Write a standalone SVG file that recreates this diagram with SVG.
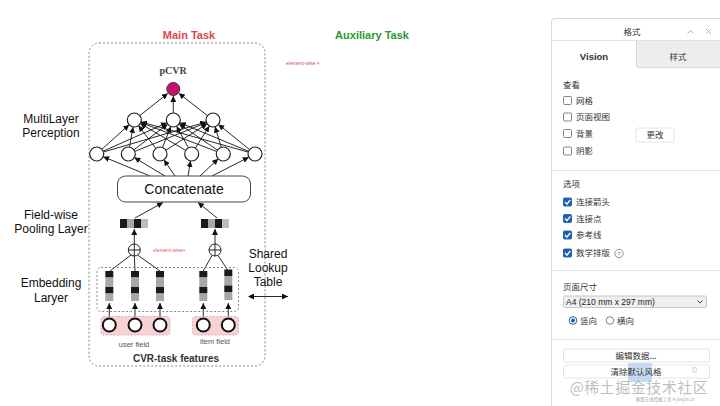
<svg xmlns="http://www.w3.org/2000/svg" width="720" height="406" viewBox="0 0 720 406">
<defs>
<style>
.lbl{font-family:"Liberation Sans",Arial,sans-serif;font-size:12px;fill:#111;text-anchor:middle}
.nd{fill:#fff;stroke:#222;stroke-width:1.2}
.in{fill:#fff;stroke:#111;stroke-width:2}
.ln{stroke:#111;stroke-width:0.9;fill:none}
.arr{stroke:#111;stroke-width:0.9;fill:none;marker-end:url(#ah)}
.dash{fill:none;stroke:#888;stroke-width:1;stroke-dasharray:2,2}
.blk{fill:#1a1a1a}
.gry{fill:#a8a8a8}
.cjk{font-family:"Noto Sans CJK SC","Noto Sans",sans-serif;font-size:8.5px;fill:#333}
.sep{stroke:#e2e2e2;stroke-width:1}
.cb{fill:#fff;stroke:#777;stroke-width:0.9}
.cbk{fill:#1b5fb0;stroke:#1b5fb0;stroke-width:0.9}
.tick{fill:none;stroke:#fff;stroke-width:1.4}
</style>
<marker id="ah" viewBox="0 0 10 10" refX="10" refY="5" markerWidth="6" markerHeight="6" markerUnits="userSpaceOnUse" orient="auto">
<path d="M0,0 L10,5 L0,10 z" fill="#111"/>
</marker>
<marker id="ahs" viewBox="0 0 10 10" refX="0" refY="5" markerWidth="6" markerHeight="6" markerUnits="userSpaceOnUse" orient="auto-start-reverse">
<path d="M0,0 L10,5 L0,10 z" fill="#111"/>
</marker>
</defs>
<rect width="720" height="406" fill="#fff"/>

<text x="189" y="39" font-family="Liberation Sans,Arial,sans-serif" font-size="11" font-weight="bold" fill="#e04848" text-anchor="middle">Main Task</text>
<text x="372" y="39" font-family="Liberation Sans,Arial,sans-serif" font-size="11" font-weight="bold" fill="#2a9a2a" text-anchor="middle">Auxiliary Task</text>
<text x="286" y="65" font-family="Liberation Sans,Arial,sans-serif" font-size="5" fill="#d05050">element-wise ×</text>

<rect id="main-box" x="89" y="43" width="176" height="323" rx="10" class="dash"/>

<g id="label-mlp"><text x="51" y="123" class="lbl">MultiLayer</text><text x="51" y="137" class="lbl">Perception</text></g>
<g id="label-pool"><text x="51" y="219" class="lbl">Field-wise</text><text x="51" y="233" class="lbl">Pooling Layer</text></g>
<g id="label-emb"><text x="51" y="287" class="lbl">Embedding</text><text x="51" y="302" class="lbl">Laryer</text></g>
<g id="label-shared"><text x="268" y="258" class="lbl">Shared</text><text x="268" y="272" class="lbl">Lookup</text><text x="268" y="286" class="lbl">Table</text></g>

<text x="173" y="74" font-family="Liberation Serif,serif" font-size="10" font-weight="bold" fill="#444" text-anchor="middle">pCVR</text>

<g id="connectors">
<line x1="254" y1="296.5" x2="288" y2="296.5" class="ln" marker-start="url(#ahs)" marker-end="url(#ah)"/>
<line x1="139.8" y1="115.6" x2="167.8" y2="93.4" class="arr"/>
<line x1="173.3" y1="113" x2="173.3" y2="96" class="arr"/>
<line x1="207.5" y1="115.7" x2="178.8" y2="93.3" class="arr"/>
<line x1="101.9" y1="149.3" x2="129.1" y2="124.7" class="arr"/>
<line x1="129.5" y1="147.1" x2="133.1" y2="126.9" class="arr"/>
<line x1="155.8" y1="148.4" x2="138.5" y2="125.6" class="arr"/>
<line x1="185.7" y1="150.4" x2="140.3" y2="123.6" class="arr"/>
<line x1="216.8" y1="151.5" x2="140.8" y2="122.5" class="arr"/>
<line x1="248.3" y1="152.1" x2="141.0" y2="121.9" class="arr"/>
<line x1="103.1" y1="151.2" x2="166.9" y2="122.8" class="arr"/>
<line x1="133.9" y1="149.8" x2="167.7" y2="124.2" class="arr"/>
<line x1="162.5" y1="147.5" x2="170.8" y2="126.5" class="arr"/>
<line x1="188.4" y1="147.8" x2="176.6" y2="126.2" class="arr"/>
<line x1="217.5" y1="150.1" x2="179.1" y2="123.9" class="arr"/>
<line x1="248.5" y1="151.3" x2="179.8" y2="122.7" class="arr"/>
<line x1="103.4" y1="152.0" x2="206.3" y2="122.0" class="arr"/>
<line x1="134.8" y1="151.4" x2="206.5" y2="122.6" class="arr"/>
<line x1="165.9" y1="150.2" x2="207.1" y2="123.8" class="arr"/>
<line x1="195.4" y1="148.1" x2="209.3" y2="125.9" class="arr"/>
<line x1="221.3" y1="147.3" x2="215.0" y2="126.7" class="arr"/>
<line x1="249.6" y1="149.6" x2="218.4" y2="124.4" class="arr"/>
<line x1="150" y1="176" x2="103.2" y2="156.7" class="arr"/>
<line x1="165" y1="176" x2="134.3" y2="157.6" class="arr"/>
<line x1="175" y1="176" x2="163.9" y2="159.8" class="arr"/>
<line x1="188" y1="176" x2="190.5" y2="160.9" class="arr"/>
<line x1="200" y1="176" x2="218.2" y2="158.8" class="arr"/>
<line x1="212" y1="176" x2="248.8" y2="157.2" class="arr"/>
<line x1="135" y1="218" x2="163" y2="202.5" class="arr"/>
<line x1="217" y1="218" x2="198" y2="202.5" class="arr"/>
<line x1="134.3" y1="244" x2="134.3" y2="229" class="arr"/>
<line x1="215" y1="244" x2="215" y2="229" class="arr"/>
<line x1="131" y1="255" x2="110" y2="271" class="ln"/>
<line x1="134.3" y1="256" x2="135" y2="271" class="ln"/>
<line x1="137.6" y1="255" x2="160" y2="271" class="ln"/>
<line x1="212" y1="255.5" x2="203.3" y2="271" class="ln"/>
<line x1="218" y1="255.5" x2="228.3" y2="271" class="ln"/>
<line x1="109.3" y1="318" x2="109.3" y2="303" class="arr"/>
<line x1="135" y1="318" x2="135" y2="303" class="arr"/>
<line x1="160" y1="318" x2="160" y2="303" class="arr"/>
<line x1="203.3" y1="318" x2="203.3" y2="303" class="arr"/>
<line x1="228.3" y1="318" x2="228.3" y2="303" class="arr"/>
</g>

<g id="node-pcvr"><circle cx="173.3" cy="89" r="6.5" fill="#c8106e" stroke="#333" stroke-width="1"/></g>
<g id="node-h2-1"><circle cx="134.3" cy="120" r="7" class="nd"/></g>
<g id="node-h2-2"><circle cx="173.3" cy="120" r="7" class="nd"/></g>
<g id="node-h2-3"><circle cx="213" cy="120" r="7" class="nd"/></g>
<g id="node-h1-1"><circle cx="96.7" cy="154" r="7" class="nd"/></g>
<g id="node-h1-2"><circle cx="128.3" cy="154" r="7" class="nd"/></g>
<g id="node-h1-3"><circle cx="160" cy="154" r="7" class="nd"/></g>
<g id="node-h1-4"><circle cx="191.7" cy="154" r="7" class="nd"/></g>
<g id="node-h1-5"><circle cx="223.3" cy="154" r="7" class="nd"/></g>
<g id="node-h1-6"><circle cx="255" cy="154" r="7" class="nd"/></g>

<g id="node-concat">
<rect x="117.5" y="176" width="133" height="26" rx="8" fill="#fff" stroke="#444" stroke-width="1"/>
<text x="184" y="194" font-family="Liberation Sans,Arial,sans-serif" font-size="14" fill="#111" text-anchor="middle">Concatenate</text>
</g>

<g id="node-pool-user">
<rect x="120" y="219" width="7" height="9" class="blk"/><rect x="127" y="219" width="7" height="9" class="gry"/><rect x="134" y="219" width="7" height="9" class="blk"/><rect x="141" y="219" width="7" height="9" fill="#bdbdbd"/>
</g>
<g id="node-pool-item">
<rect x="201" y="219" width="7" height="9" class="blk"/><rect x="208" y="219" width="7" height="9" class="gry"/><rect x="215" y="219" width="7" height="9" class="blk"/><rect x="222" y="219" width="7" height="9" fill="#bdbdbd"/>
</g>

<g id="node-sum-user"><circle cx="134.3" cy="250" r="6" fill="#fff" stroke="#222" stroke-width="1"/><path d="M128.3,250 H140.3 M134.3,244 V256" stroke="#222" stroke-width="1"/></g>
<g id="node-sum-item"><circle cx="215" cy="250" r="6" fill="#fff" stroke="#222" stroke-width="1"/><path d="M209,250 H221 M215,244 V256" stroke="#222" stroke-width="1"/></g>
<text x="153" y="252" font-family="Liberation Sans,Arial,sans-serif" font-size="5" fill="#e05a5a">element-wise+</text>

<rect id="emb-box" x="97" y="267.5" width="141.5" height="44" rx="4" class="dash"/>
<g id="emb-cols">
<g id="node-emb-1"><rect x="105.3" y="271" width="8" height="6.5" class="blk"/><rect x="105.3" y="277.5" width="8" height="9.5" class="gry"/><rect x="105.3" y="287" width="8" height="6.5" class="blk"/><rect x="105.3" y="293.5" width="8" height="7.5" class="gry"/></g>
<g id="node-emb-2"><rect x="131" y="271" width="8" height="6.5" class="blk"/><rect x="131" y="277.5" width="8" height="9.5" class="gry"/><rect x="131" y="287" width="8" height="6.5" class="blk"/><rect x="131" y="293.5" width="8" height="7.5" class="gry"/></g>
<g id="node-emb-3"><rect x="156" y="271" width="8" height="6.5" class="blk"/><rect x="156" y="277.5" width="8" height="9.5" class="gry"/><rect x="156" y="287" width="8" height="6.5" class="blk"/><rect x="156" y="293.5" width="8" height="7.5" class="gry"/></g>
<g id="node-emb-4"><rect x="199.3" y="271" width="8" height="6.5" class="blk"/><rect x="199.3" y="277.5" width="8" height="9.5" class="gry"/><rect x="199.3" y="287" width="8" height="6.5" class="blk"/><rect x="199.3" y="293.5" width="8" height="7.5" class="gry"/></g>
<g id="node-emb-5"><rect x="224.3" y="269.5" width="8" height="6.5" class="blk"/><rect x="224.3" y="276" width="8" height="9.5" class="gry"/><rect x="224.3" y="285.5" width="8" height="6.5" class="blk"/><rect x="224.3" y="292" width="8" height="8" class="gry"/></g>
</g>

<g id="user-field">
<rect x="101" y="316.5" width="69" height="18.5" rx="3" fill="#f6d2d4" stroke="#e0a0a6" stroke-width="0.8" stroke-dasharray="2,1.5"/>
<circle cx="109.3" cy="325" r="6.5" class="in"/><circle cx="135" cy="325" r="6.5" class="in"/><circle cx="160" cy="325" r="6.5" class="in"/>
<text x="134" y="347" font-family="Liberation Sans,Arial,sans-serif" font-size="7.5" fill="#555" text-anchor="middle">user field</text>
</g>
<g id="item-field">
<rect x="192.5" y="316.5" width="46" height="18.5" rx="3" fill="#f6d2d4" stroke="#e0a0a6" stroke-width="0.8" stroke-dasharray="2,1.5"/>
<circle cx="203.3" cy="325" r="6.5" class="in"/><circle cx="228.3" cy="325" r="6.5" class="in"/>
<text x="215" y="344" font-family="Liberation Sans,Arial,sans-serif" font-size="7.5" fill="#555" text-anchor="middle">item field</text>
</g>
<text x="176" y="362" font-family="Liberation Sans,Arial,sans-serif" font-size="10" font-weight="bold" fill="#333" text-anchor="middle">CVR-task features</text>

<g id="format-panel">
<rect x="551.5" y="18.5" width="175" height="395" rx="3" fill="#fff" stroke="#d8d8d8"/>
<text x="632" y="35" class="cjk" font-size="10" text-anchor="middle">格式</text>
<path d="M687.5,33.5 L690.5,30.5 L693.5,33.5" fill="none" stroke="#aaa" stroke-width="0.9"/>
<path d="M706,29 L711,34 M711,29 L706,34" stroke="#aaa" stroke-width="0.9"/>
<line x1="552" y1="40.5" x2="720" y2="40.5" class="sep"/>
<rect x="637" y="41" width="83" height="26" fill="#ededed"/>
<line x1="637" y1="67.5" x2="720" y2="67.5" stroke="#d8d8d8"/>
<line x1="636.5" y1="41" x2="636.5" y2="67" stroke="#d8d8d8"/>
<text x="594" y="60" font-family="Liberation Sans,Arial,sans-serif" font-size="9.5" font-weight="bold" fill="#333" text-anchor="middle">Vision</text>
<text x="678" y="60" class="cjk" font-size="10" text-anchor="middle">样式</text>

<text x="563" y="88" class="cjk">查看</text>
<rect x="563.5" y="96.5" width="8" height="8" rx="1" class="cb"/><text x="576" y="103.5" class="cjk">网格</text>
<rect x="563.5" y="113" width="8" height="8" rx="1" class="cb"/><text x="576" y="120" class="cjk">页面视图</text>
<rect x="563.5" y="129.5" width="8" height="8" rx="1" class="cb"/><text x="576" y="136.5" class="cjk">背景</text>
<rect x="563.5" y="147" width="8" height="8" rx="1" class="cb"/><text x="576" y="154" class="cjk">阴影</text>
<rect x="636" y="128" width="38" height="14" rx="2" fill="#fff" stroke="#e4e4e4"/>
<text x="655" y="138" class="cjk" text-anchor="middle">更改</text>
<line x1="552" y1="170.5" x2="720" y2="170.5" class="sep"/>

<text x="563" y="187" class="cjk">选项</text>
<rect x="563.5" y="198" width="8" height="8" rx="1" class="cbk"/><path d="M565,202 L567,204.2 L570.2,199.8" class="tick"/><text x="576" y="205" class="cjk">连接箭头</text>
<rect x="563.5" y="214.5" width="8" height="8" rx="1" class="cbk"/><path d="M565,218.5 L567,220.7 L570.2,216.3" class="tick"/><text x="576" y="221.5" class="cjk">连接点</text>
<rect x="563.5" y="231" width="8" height="8" rx="1" class="cbk"/><path d="M565,235 L567,237.2 L570.2,232.8" class="tick"/><text x="576" y="238" class="cjk">参考线</text>
<rect x="563.5" y="249" width="8" height="8" rx="1" class="cbk"/><path d="M565,253 L567,255.2 L570.2,250.8" class="tick"/><text x="576" y="256" class="cjk">数学排版</text>
<circle cx="619" cy="253.5" r="4.2" fill="none" stroke="#777" stroke-width="0.8"/><text x="619" y="256" font-family="Liberation Sans,Arial,sans-serif" font-size="6" fill="#777" text-anchor="middle">?</text>
<line x1="552" y1="270.5" x2="720" y2="270.5" class="sep"/>

<text x="563" y="290" class="cjk">页面尺寸</text>
<rect x="563.5" y="296" width="143" height="11.5" rx="1.5" fill="#efefef" stroke="#c8c8c8"/>
<text x="566" y="305" font-family="Liberation Sans,Arial,sans-serif" font-size="8.5" fill="#222">A4 (210 mm x 297 mm)</text>
<path d="M697.5,300.5 L700,303 L702.5,300.5" fill="none" stroke="#444" stroke-width="1"/>
<circle cx="573" cy="320.5" r="3.8" fill="#fff" stroke="#1b5fb0" stroke-width="1"/><circle cx="573" cy="320.5" r="2" fill="#1b5fb0"/>
<text x="580" y="323.5" class="cjk">竖向</text>
<circle cx="610" cy="320.5" r="3.8" fill="#fff" stroke="#666" stroke-width="0.8"/>
<text x="617" y="323.5" class="cjk">横向</text>
<line x1="552" y1="339.5" x2="720" y2="339.5" class="sep"/>

<rect x="563.5" y="349" width="146" height="13" rx="2" fill="#fff" stroke="#e4e4e4"/>
<text x="636" y="358.5" class="cjk" text-anchor="middle">编辑数据...</text>
<rect x="563.5" y="365" width="146" height="13" rx="2" fill="#fff" stroke="#e4e4e4"/>
<rect x="628" y="363" width="24" height="19" fill="#b7cfee" opacity="0.8"/>
<text x="636" y="374.5" class="cjk" text-anchor="middle">清除默认风格</text>
<text x="692" y="373" font-family="Liberation Sans,Arial,sans-serif" font-size="9" fill="#ccc">0</text>
<text x="639" y="393" font-family="Noto Sans CJK SC,sans-serif" font-size="15" fill="#a8a8a8" fill-opacity="0.75" text-anchor="middle" letter-spacing="0.5">@稀土掘金技术社区</text>
<text x="665" y="401" font-family="Noto Sans CJK SC,sans-serif" font-size="4.5" fill="#aaa" text-anchor="middle">笔墨在线绘图工具 k-juejin.cn</text>
</g>
</svg>
